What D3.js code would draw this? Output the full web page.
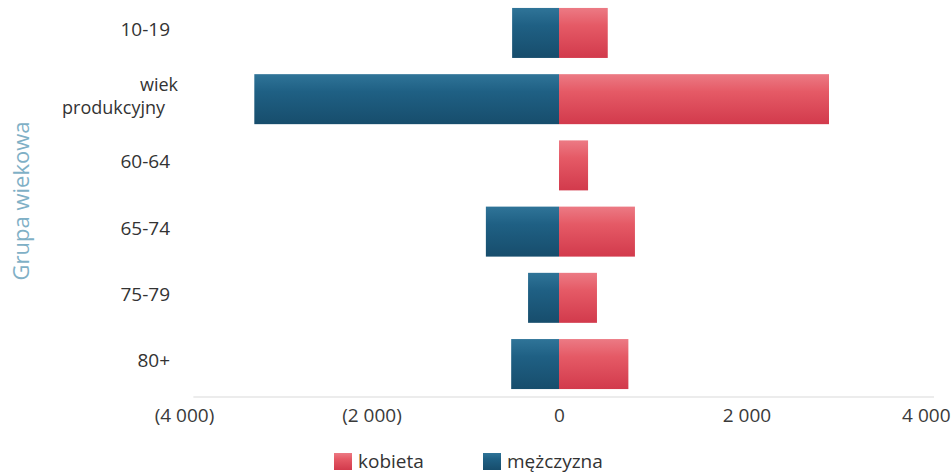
<!DOCTYPE html>
<html><head><meta charset="utf-8">
<script src="https://cdn.jsdelivr.net/npm/d3@7"></script>
<style>
html,body{margin:0;padding:0;background:#fff;}
svg{display:block;font-family:"Open Sans","Noto Sans",sans-serif;}
</style></head>
<body>
<svg id="chart" width="951" height="476"></svg>
<script>
const categories = ["10-19", "wiek produkcyjny", "60-64", "65-74", "75-79", "80+"];
const female = [520, 2880, 310, 810, 405, 740];      // kobieta
const male = [-500, -3250, 0, -780, -330, -510];     // mężczyzna
const tickValues = [-4000, -2000, 0, 2000, 4000];
const tickLabels = ["(4 000)", "(2 000)", "0", "2 000", "4 000"];
const seriesNames = ["kobieta", "mężczyzna"];

const svg = d3.select("#chart");
const x = d3.scaleLinear().domain([-4000, 4000]).range([184, 934]);
const y = d3.scaleBand().domain(categories).range([0, 397]).paddingInner(0.245).paddingOuter(0.12);

const defs = svg.append("defs");
function grad(id, top, mid, bot) {
  const g = defs.append("linearGradient").attr("id", id).attr("x1", 0).attr("y1", 0).attr("x2", 0).attr("y2", 1);
  g.append("stop").attr("offset", "0%").attr("stop-color", top);
  g.append("stop").attr("offset", "35%").attr("stop-color", mid);
  g.append("stop").attr("offset", "100%").attr("stop-color", bot);
}
grad("gF", "#ec7a84", "#e55a66", "#d23a4c");
grad("gM", "#2f7498", "#1f6084", "#174d6c");

// axis baseline (faint)
svg.append("line").attr("x1", x(-3900)).attr("x2", x(4000)).attr("y1", 397).attr("y2", 397)
  .attr("stroke", "#ececec").attr("stroke-width", 2);

const rows = categories.map((c, i) => ({c, f: female[i], m: male[i]}));
svg.append("g").selectAll("rect.m").data(rows.filter(d => d.m !== 0)).join("rect")
  .attr("x", d => x(d.m)).attr("width", d => x(0) - x(d.m))
  .attr("y", d => y(d.c)).attr("height", y.bandwidth()).attr("fill", "url(#gM)");
svg.append("g").selectAll("rect.f").data(rows.filter(d => d.f !== 0)).join("rect")
  .attr("x", x(0)).attr("width", d => x(d.f) - x(0))
  .attr("y", d => y(d.c)).attr("height", y.bandwidth()).attr("fill", "url(#gF)");

// x axis
const xAxis = svg.append("g").attr("transform", "translate(0,397)")
  .call(d3.axisBottom(x).tickValues(tickValues).tickSize(0).tickPadding(12)
    .tickFormat((d, i) => tickLabels[i]));
xAxis.select(".domain").remove();
xAxis.selectAll("text").attr("font-size", 19).attr("fill", "#3a3a3a")
  .attr("font-family", "'Open Sans',sans-serif");
// last label is pushed inside the right edge, as in the reference
xAxis.selectAll(".tick").filter(d => d === 4000).select("text")
  .attr("text-anchor", "end").attr("x", 950 - x(4000));

// category labels
const lab = svg.append("g");
categories.forEach(c => {
  const cy = y(c) + y.bandwidth() / 2;
  if (c === "wiek produkcyjny") {
    lab.append("text").attr("text-anchor", "end").attr("x", 178).attr("y", cy - 8)
      .attr("font-size", 18).attr("fill", "#333").text("wiek");
    lab.append("text").attr("text-anchor", "end").attr("x", 165).attr("y", cy + 15)
      .attr("font-size", 18).attr("fill", "#333").text("produkcyjny");
  } else {
    lab.append("text").attr("text-anchor", "end").attr("x", 170).attr("y", cy + 3)
      .attr("font-size", 19).attr("fill", "#333").text(c);
  }
});

// y axis title
svg.append("text").attr("transform", "translate(29,201) rotate(-90)")
  .attr("text-anchor", "middle").attr("font-size", 22).attr("fill", "#7fb0c6").text("Grupa wiekowa");

// legend
const legend = svg.append("g");
const lx = [334, 483];
const fills = ["url(#gF)", "url(#gM)"];
seriesNames.forEach((n, i) => {
  legend.append("rect").attr("x", lx[i]).attr("y", 453).attr("width", 18).attr("height", 17).attr("fill", fills[i]);
  legend.append("text").attr("x", lx[i] + 24).attr("y", 468).attr("font-size", 19).attr("fill", "#333").text(n);
});
</script>
</body></html>
